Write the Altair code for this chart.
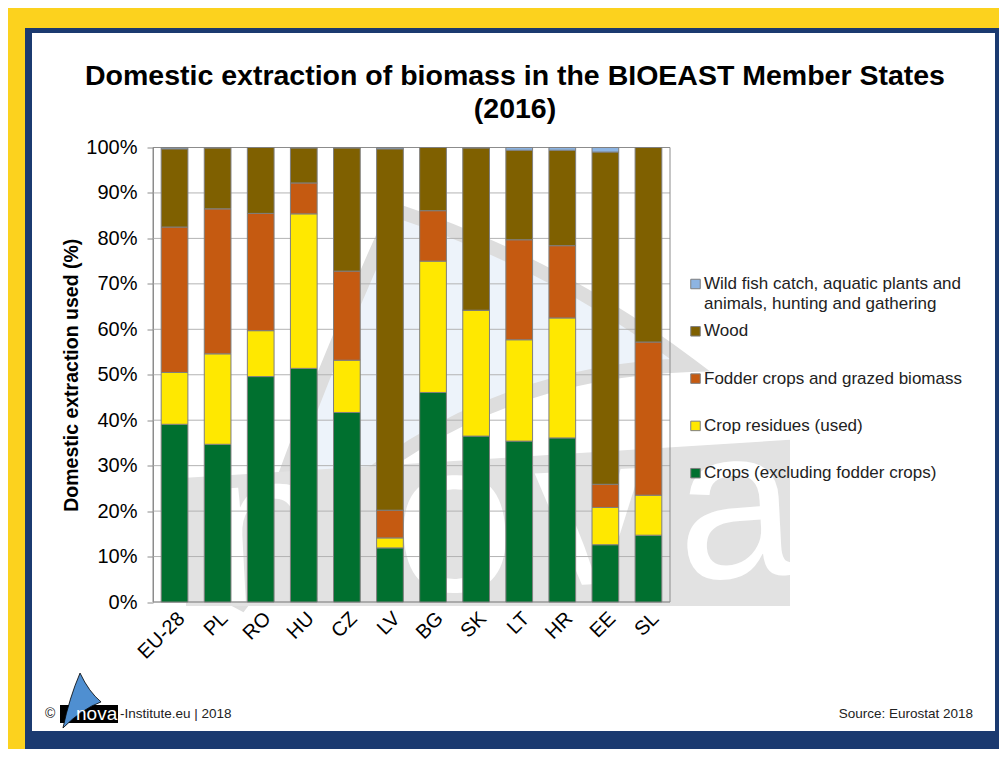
import altair as alt
import pandas as pd

# ---------------- data ----------------
countries = ["EU-28", "PL", "RO", "HU", "CZ", "LV", "BG", "SK", "LT", "HR", "EE", "SL"]
crops    = [39.1, 34.7, 49.6, 51.4, 41.7, 11.9, 46.1, 36.5, 35.4, 36.1, 12.6, 14.7]
residues = [11.4, 19.9, 10.1, 34.0, 11.5, 2.2, 28.9, 27.7, 22.3, 26.4, 8.2, 8.8]
fodder   = [32.0, 31.9, 25.8, 6.8, 19.6, 6.1, 11.1, 0.0, 22.0, 15.9, 5.1, 33.7]
wood     = [17.2, 13.4, 14.5, 7.7, 27.1, 79.5, 13.9, 35.7, 19.7, 21.0, 73.1, 42.8]
fish     = [0.3, 0.1, 0.0, 0.1, 0.1, 0.3, 0.0, 0.1, 0.6, 0.6, 1.0, 0.0]

series_names = [
    "Crops (excluding fodder crops)",
    "Crop residues (used)",
    "Fodder crops and grazed biomass",
    "Wood",
    "Wild fish catch, aquatic plants and animals, hunting and gathering",
]
series_values = [crops, residues, fodder, wood, fish]
series_colors = ["#00702F", "#FFE800", "#C55A11", "#7F6000", "#8DB4E2"]

y_ticks = [0.0, 0.1, 0.2, 0.3, 0.4, 0.5, 0.6, 0.7, 0.8, 0.9, 1.0]

title_line1 = "Domestic extraction of biomass in the BIOEAST Member States"
title_line2 = "(2016)"
y_title = "Domestic extraction used (%)"
source_text = "Source: Eurostat 2018"

rows = []
for i, c in enumerate(countries):
    for s, (name, vals) in enumerate(zip(series_names, series_values)):
        rows.append({"country": c, "category": name, "value": vals[i], "ord": s})
df = pd.DataFrame(rows)

legend_df = pd.DataFrame({
    "category": list(reversed(series_names)),
    "idx": list(range(len(series_names))),
})
grid_df = pd.DataFrame({"v": y_ticks})

FONT = "Liberation Sans"
color_scale = alt.Scale(domain=series_names, range=series_colors)
W, H = 517, 454.5

# ---------------- bars ----------------
bars = alt.Chart(df).mark_bar(stroke="#7f7f7f", strokeWidth=1).encode(
    x=alt.X("country:N", sort=countries,
            scale=alt.Scale(paddingInner=0.38, paddingOuter=0.19),
            axis=alt.Axis(title=None, labelAngle=-45, labelFontSize=20, labelFont=FONT,
                          labelColor="black", ticks=False, domain=False, grid=False,
                          labelPadding=6)),
    y=alt.Y("value:Q", stack="normalize",
            scale=alt.Scale(domain=[0, 1], nice=False),
            axis=alt.Axis(title=y_title, format=".0%", values=y_ticks, grid=False,
                          labelFontSize=20, labelFont=FONT, labelColor="black",
                          labelPadding=10, tickSize=6, tickColor="#8c8c8c",
                          domainColor="#8c8c8c",
                          titleFont=FONT, titleFontSize=19.5, titleFontWeight="bold",
                          titleColor="black", titlePadding=4)),
    color=alt.Color("category:N", scale=color_scale, legend=None),
    order=alt.Order("ord:Q", sort="ascending"),
)

grid = alt.Chart(grid_df).mark_rule(color="#b3b3b3", strokeWidth=1).encode(
    y=alt.Y("v:Q", scale=alt.Scale(domain=[0, 1], nice=False), axis=None),
    x=alt.value(0), x2=alt.value(W),
)

# ---------------- manual legend ----------------
leg_base = alt.Chart(legend_df).transform_calculate(
    ly="136.5 + datum.idx * 47.3",
    lbl="replace(datum.category, 'and animals', 'and\\nanimals')",
)
leg_sq = leg_base.mark_square(size=90, filled=True, opacity=1, stroke="#7f7f7f",
                              strokeWidth=1).encode(
    x=alt.value(542.5),
    y=alt.Y("ly:Q", scale=None, axis=None),
    color=alt.Color("category:N", scale=color_scale, legend=None),
)
leg_tx = leg_base.mark_text(align="left", baseline="middle", fontSize=17, font=FONT,
                            color="#222222", lineBreak="\n", lineHeight=20).encode(
    x=alt.value(551),
    y=alt.Y("ly:Q", scale=None, axis=None),
    text="lbl:N",
)

# ---------------- decorations ----------------
one = alt.Data(values=[{}])


def band(x1, x2, y1, y2, col):
    return alt.Chart(one).mark_rect(color=col, opacity=1).encode(
        x=alt.value(x1), x2=alt.value(x2), y=alt.value(y1), y2=alt.value(y2))


def label(txt, x, y, size, align="left", weight="normal", col="#222222", angle=0):
    return alt.Chart(one).mark_text(text=txt, align=align, baseline="alphabetic",
                                    fontSize=size, font=FONT, fontWeight=weight,
                                    angle=angle, color=col).encode(
        x=alt.value(x), y=alt.value(y))


def shape(path, cx, cy, size, fill, stroke, sw):
    return alt.Chart(one).mark_point(shape=path, size=size, filled=True, opacity=1,
                                     fill=fill, stroke=stroke, strokeWidth=sw).encode(
        x=alt.value(cx), y=alt.value(cy))


YEL = "#FCD21E"
BLU = "#1B3A70"
frame = [
    band(-145, -128, -139.5, 601.5, YEL),
    band(-145, 846, -139.5, -119.5, YEL),
    band(-128, -121, -119.5, 601.5, BLU),
    band(-128, 846, -119.5, -114.5, BLU),
    band(842, 846, -119.5, 601.5, BLU),
    band(-128, 846, 583.5, 601.5, BLU),
]

# faint background watermark (logo)
OX, OY = 153, 147.5
big_sail = ("M -0.983 0.865 Q -0.68 -0.035 -0.30 -0.865 "
            "Q 0.389 -0.637 0.983 -0.191 Q -0.209 -0.154 -0.983 0.865 Z")
box_path = "M -1 0.026 L 1 -0.1 L 1 0.45 L -1 0.45 Z"
WM_GREY = "#E2E2E2"
watermark = [
    shape(big_sail, 464 - OX, 409 - OY, 460 ** 2, "#EDF3FA", "#DDDDDD", 14),
    shape(box_path, 488 - OX, 470 - OY, 604 ** 2, WM_GREY, WM_GREY, 0),
    label("n", 212 - OX, 603 - OY, 215, col="white", angle=357),
    label("o", 398 - OX, 594 - OY, 215, col="white", angle=357),
    label("v", 540 - OX, 587 - OY, 215, col="white", angle=357),
    label("a", 680 - OX, 580 - OY, 215, col="white", angle=357),
]

sail_path = "M -0.68 0.98 Q -0.45 -0.1 -0.07 -0.98 Q 0.25 -0.3 0.68 0.05 Q 0.0 0.3 -0.68 0.98 Z"

footer = [
    label("©", -108, 570.5, 14),
    band(-93, -35, 557.5, 575.5, "black"),
    shape(sail_path, -71, 553, 3136, "#4F8FD1", "black", 0.8),
    label("nova", -77, 572, 19, col="white"),
    label("-Institute.eu | 2018", -33, 570.5, 13.5),
    label(source_text, 820, 570.5, 13.5, align="right"),
]

titles = [
    label(title_line1, 362, -62.5, 28.5, align="center", weight="bold", col="black"),
    label(title_line2, 362, -29.5, 28.5, align="center", weight="bold", col="black"),
]

border = alt.Chart(one).mark_rect(filled=False, stroke="#8c8c8c", strokeWidth=1).encode(
    x=alt.value(0), x2=alt.value(W), y=alt.value(0), y2=alt.value(H))

chart = alt.layer(*frame, *watermark, grid, border, bars, leg_sq, leg_tx, *titles,
                  *footer).resolve_scale(
    x="independent", y="independent"
).properties(
    width=W, height=H,
    autosize=alt.AutoSizeParams(type="none"),
    padding={"left": 145, "top": 139.5, "right": 329, "bottom": 147},
    background="white",
).configure_view(strokeOpacity=0)

chart.save("out.html", embed_options={"renderer": "svg", "actions": False})
